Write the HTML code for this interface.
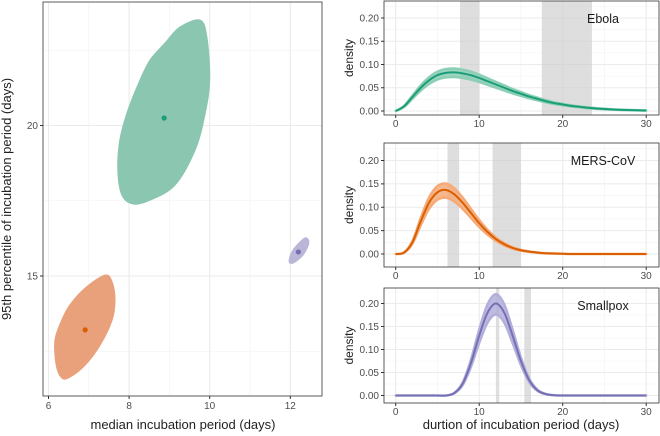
<!DOCTYPE html>
<html><head><meta charset="utf-8"><style>
body{margin:0;background:#fff;font-family:"Liberation Sans",sans-serif}
svg{display:block}
text{font-family:"Liberation Sans",sans-serif}
</style></head><body>
<svg id="c" width="660" height="436"></svg>
<script>
// ---- data ----
const ebolaRegion=[[9.26,23.27],[9.76,23.5],[9.93,22.94],[10.0,21.51],[9.88,20.35],[9.64,19.19],[9.14,18.02],[8.52,17.52],[8.10,17.39],[7.82,17.69],[7.72,18.52],[7.77,19.52],[7.97,20.51],[8.27,21.51],[8.52,22.18],[8.89,22.74]];
const mersRegion=[[7.40,15.03],[7.58,14.80],[7.65,14.20],[7.58,13.54],[7.28,12.70],[6.91,12.04],[6.53,11.64],[6.33,11.61],[6.19,12.04],[6.16,12.87],[6.33,13.54],[6.53,14.04],[6.91,14.60]];
const smallpoxRegion=[[12.36,16.26],[12.46,16.10],[12.32,15.70],[12.07,15.43],[11.97,15.50],[12.07,15.87]];
const pointMedians=[8.87,6.91,12.2];
const pointP95=[20.25,13.21,15.8];
const days=[0,1,2,3,4,5,6,7,8,9,10,11,12,13,14,15,16,17,18,19,20,21,22,23,24,25,26,27,28,29,30];
const ebolaDensity=[0,0.01,0.03,0.05,0.066,0.077,0.082,0.083,0.081,0.077,0.071,0.064,0.057,0.05,0.043,0.037,0.031,0.026,0.021,0.017,0.014,0.011,0.009,0.007,0.0055,0.0043,0.0033,0.0025,0.002,0.0015,0.001];
const mersDensity=[0,0.003,0.025,0.07,0.11,0.132,0.137,0.128,0.11,0.088,0.066,0.047,0.032,0.021,0.013,0.008,0.005,0.003,0.0015,0.001,0.0005,0,0,0,0,0,0,0,0,0,0];
const smallpoxDensity=[0,0,0,0,0,0,0,0.005,0.025,0.07,0.13,0.18,0.2,0.18,0.13,0.075,0.033,0.011,0.003,0.0005,0,0,0,0,0,0,0,0,0,0,0];
const ebolaIntervals=[[7.7,10],[17.5,23.5]];
const mersIntervals=[[6.2,7.6],[11.6,15]];
const smallpoxIntervals=[[12,12.4],[15.4,16.2]];
const leftXTicks=[6,8,10,12];
const leftYTicks=[15,20];
const rightXTicks=[0,10,20,30];
const rightYTicks=[0,0.05,0.1,0.15,0.2];
const rightYLabels=["0.00","0.05","0.10","0.15","0.20"];
const panelNames=["Ebola","MERS-CoV","Smallpox"];
// ---- drawing ----
const svg=document.getElementById('c');const NS='http://www.w3.org/2000/svg';
function el(t,a,p){const e=document.createElementNS(NS,t);for(const k in a)e.setAttribute(k,a[k]);(p||svg).appendChild(e);return e;}
function txt(x,y,s,a,p){const e=el('text',Object.assign({x:x,y:y},a),p);e.textContent=s;return e;}
function smooth(pts,closed){const n=pts.length;const get=i=>closed?pts[(i+n)%n]:pts[Math.max(0,Math.min(n-1,i))];let d='M'+pts[0][0]+','+pts[0][1];const m=closed?n:n-1;for(let i=0;i<m;i++){const p0=get(i-1),p1=get(i),p2=get(i+1),p3=get(i+2);d+=' C'+(p1[0]+(p2[0]-p0[0])/6)+','+(p1[1]+(p2[1]-p0[1])/6)+' '+(p2[0]-(p3[0]-p1[0])/6)+','+(p2[1]-(p3[1]-p1[1])/6)+' '+p2[0]+','+p2[1];}return d+(closed?'Z':'');}
// left panel
const L={x0:43,x1:322,y0:2,y1:396};
const lx=v=>48.5+(v-6)*40.3, ly=v=>125.5-(v-20)*30.1;
const lg=el('g',{});
[7,9,11].forEach(v=>el('line',{x1:lx(v),x2:lx(v),y1:L.y0,y2:L.y1,stroke:'#f2f2f2','stroke-width':0.6},lg));
[12.5,17.5,22.5].forEach(v=>el('line',{x1:L.x0,x2:L.x1,y1:ly(v),y2:ly(v),stroke:'#f2f2f2','stroke-width':0.6},lg));
leftXTicks.forEach(v=>{el('line',{x1:lx(v),x2:lx(v),y1:L.y0,y2:L.y1,stroke:'#ebebeb','stroke-width':1.1},lg);el('line',{x1:lx(v),x2:lx(v),y1:L.y1,y2:L.y1+3,stroke:'#333'},lg);const t=txt(lx(v),409,v,{'text-anchor':'middle','font-size':10,fill:'#4d4d4d'},lg);});
leftYTicks.forEach(v=>{el('line',{x1:L.x0,x2:L.x1,y1:ly(v),y2:ly(v),stroke:'#ebebeb','stroke-width':1.1},lg);el('line',{x1:L.x0-3,x2:L.x0,y1:ly(v),y2:ly(v),stroke:'#333'},lg);const t=txt(L.x0-5,ly(v)+3.5,v,{'text-anchor':'end','font-size':10,fill:'#4d4d4d'},lg);});
const regions=[[ebolaRegion,'#8ac6b0','#1b9e77','ebola'],[mersRegion,'#e9a17c','#d95f02','mers'],[smallpoxRegion,'#b9b6d8','#7570b3','smallpox']];
regions.forEach((r,i)=>{const p=el('path',{d:smooth(r[0].map(q=>[lx(q[0]),ly(q[1])]),true),fill:r[1],stroke:r[1],'stroke-width':1},lg);
const c=el('circle',{cx:lx(pointMedians[i]),cy:ly(pointP95[i]),r:2.6,fill:r[2]},lg);});
el('rect',{x:L.x0,y:L.y0,width:L.x1-L.x0,height:L.y1-L.y0,fill:'none',stroke:'#333','stroke-width':0.8},lg);
let t=txt(183,429,'median incubation period (days)',{'text-anchor':'middle','font-size':13,fill:'#222'},lg);
t=txt(0,0,'95th percentile of incubation period (days)',{'text-anchor':'middle','font-size':13,fill:'#222',transform:'translate(11,199) rotate(-90)'},lg);
// right panels
const panels=[{y0:1,y1:115,z:111,t:18,d:ebolaDensity,iv:ebolaIntervals,fill:'#8ccfb5',col:'#1b9e77'},{y0:143,y1:267,z:254,t:160.5,d:mersDensity,iv:mersIntervals,fill:'#f6aa78',col:'#d95f02'},{y0:288,y1:403,z:395.5,t:303.5,d:smallpoxDensity,iv:smallpoxIntervals,fill:'#b3afdb',col:'#7570b3'}];
const RX0=384,RX1=659;const rx=v=>395.7+v*8.35;
panels.forEach((P,i)=>{const g=el('g',{});
const ry=v=>P.z-v*(P.z-P.t)/0.2;
[5,15,25].forEach(v=>el('line',{x1:rx(v),x2:rx(v),y1:P.y0,y2:P.y1,stroke:'#f2f2f2','stroke-width':0.6},g));
[0.025,0.075,0.125,0.175,0.225].forEach(v=>{if(ry(v)>P.y0)el('line',{x1:RX0,x2:RX1,y1:ry(v),y2:ry(v),stroke:'#f2f2f2','stroke-width':0.6},g);});
rightXTicks.forEach(v=>{el('line',{x1:rx(v),x2:rx(v),y1:P.y0,y2:P.y1,stroke:'#ebebeb','stroke-width':1.1},g);el('line',{x1:rx(v),x2:rx(v),y1:P.y1,y2:P.y1+3,stroke:'#333'},g);const tt=txt(rx(v),P.y1+12,v,{'text-anchor':'middle','font-size':10,fill:'#4d4d4d'},g);});
rightYTicks.forEach((v,j)=>{el('line',{x1:RX0,x2:RX1,y1:ry(v),y2:ry(v),stroke:'#ebebeb','stroke-width':1.1},g);el('line',{x1:RX0-3,x2:RX0,y1:ry(v),y2:ry(v),stroke:'#333'},g);const tt=txt(RX0-5,ry(v)+3.3,rightYLabels[j],{'text-anchor':'end','font-size':10,fill:'#4d4d4d'},g);});
P.iv.forEach(iv=>{const r=el('rect',{x:rx(iv[0]),y:P.y0,width:rx(iv[1])-rx(iv[0]),height:P.y1-P.y0,fill:'#cccccc','fill-opacity':0.65},g);});
const up=days.map((d,k)=>[rx(d),ry(P.d[k]*1.1)]);
const lo=days.map((d,k)=>[rx(d),ry(P.d[k]*0.88)]).reverse();
const band=el('path',{d:smooth(up,false)+' L'+smooth(lo,false).slice(1)+'Z',fill:P.fill,stroke:P.fill,'stroke-width':2.5,'stroke-linejoin':'round','fill-opacity':0.85},g);
const pts=days.map((d,k)=>[rx(d),ry(P.d[k])]);
const ln=el('path',{d:smooth(pts,false),fill:'none',stroke:P.col,'stroke-width':2},g);
el('rect',{x:RX0,y:P.y0,width:RX1-RX0,height:P.y1-P.y0,fill:'none',stroke:'#333','stroke-width':0.8},g);
const lab=txt(603,P.y0+22,panelNames[i],{'text-anchor':'middle','font-size':12.5,fill:'#1a1a1a'},g);
const yt=txt(0,0,'density',{'text-anchor':'middle','font-size':12,fill:'#222',transform:'translate(353,'+((P.y0+P.y1)/2)+') rotate(-90)'},g);});
t=txt(521,429,'durtion of incubation period (days)',{'text-anchor':'middle','font-size':13,fill:'#222'});
</script>
</body></html>
